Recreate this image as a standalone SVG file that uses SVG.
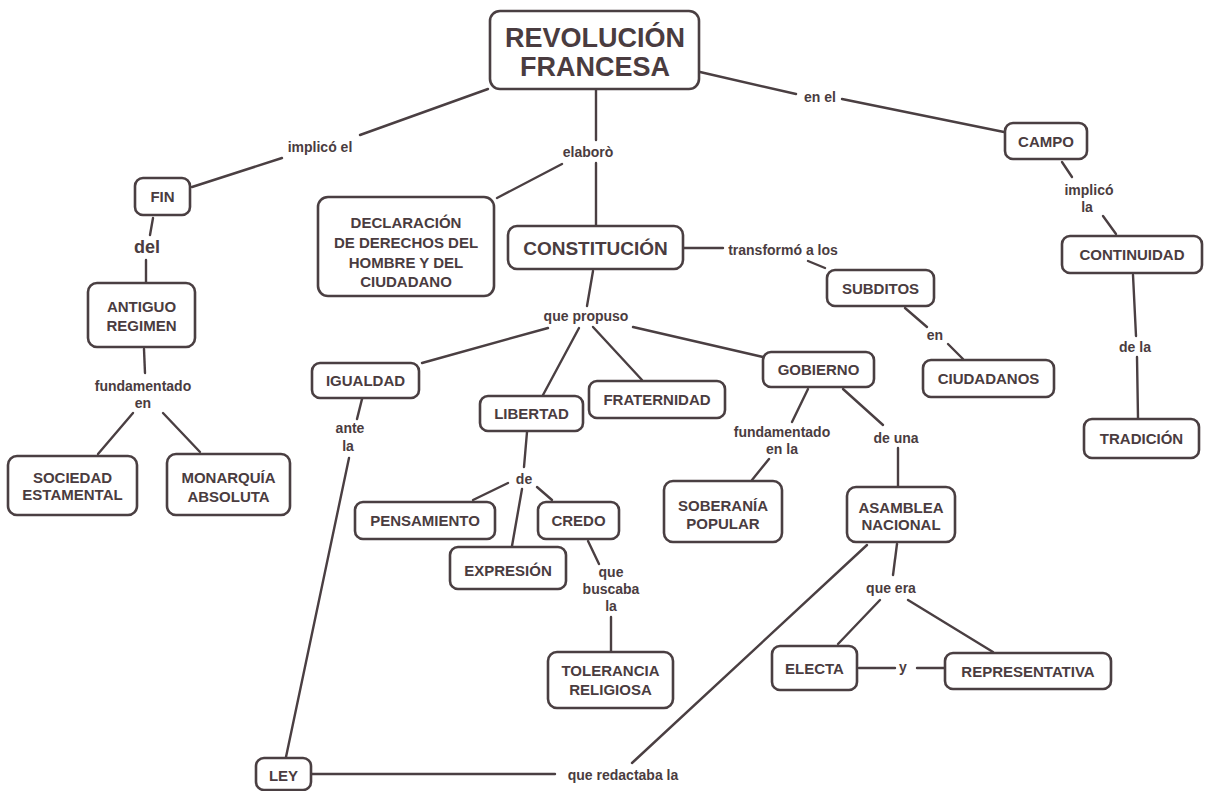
<svg xmlns="http://www.w3.org/2000/svg" width="1209" height="791" viewBox="0 0 1209 791">
<style>
.b{fill:#fff;stroke:#4a3f42;stroke-width:2.6}
.t{font-family:"Liberation Sans",Arial,sans-serif;font-weight:bold;fill:#4a3c40;text-anchor:middle;dominant-baseline:central;font-size:15px}
.l{font-family:"Liberation Sans",Arial,sans-serif;font-weight:bold;fill:#4a3c40;text-anchor:middle;dominant-baseline:central;font-size:14px}
#c line{stroke:#4a3f42;stroke-width:2.4;stroke-linecap:round}
</style>
<rect width="1209" height="791" fill="#fff"/>
<g id="c">
<line x1="488" y1="89" x2="360" y2="135"/><line x1="282" y1="158" x2="192" y2="187"/>
<line x1="153" y1="218" x2="150" y2="235"/><line x1="146" y1="260" x2="146" y2="282"/>
<line x1="144" y1="349" x2="145" y2="373"/><line x1="133" y1="413" x2="98" y2="454"/><line x1="163" y1="413" x2="200" y2="452"/>
<line x1="596" y1="90" x2="596" y2="140"/><line x1="596" y1="163" x2="596" y2="225"/><line x1="562" y1="164" x2="497" y2="198"/>
<line x1="700" y1="72" x2="796" y2="94"/><line x1="842" y1="99" x2="1004" y2="132"/>
<line x1="684" y1="248" x2="723" y2="248"/><line x1="808" y1="261" x2="825" y2="268"/>
<line x1="1062" y1="162" x2="1072" y2="177"/><line x1="1103" y1="216" x2="1116" y2="234"/>
<line x1="1133" y1="275" x2="1136" y2="336"/><line x1="1137" y1="357" x2="1138" y2="418"/>
<line x1="905" y1="308" x2="927" y2="327"/><line x1="948" y1="344" x2="963" y2="359"/>
<line x1="593" y1="271" x2="587" y2="306"/>
<line x1="548" y1="328" x2="422" y2="363"/><line x1="579" y1="328" x2="543" y2="395"/><line x1="593" y1="327" x2="642" y2="380"/><line x1="633" y1="327" x2="763" y2="357"/>
<line x1="362" y1="399" x2="357" y2="419"/><line x1="349" y1="458" x2="286" y2="757"/>
<line x1="527" y1="432" x2="524" y2="467"/><line x1="508" y1="483" x2="473" y2="500"/><line x1="522" y1="489" x2="512" y2="546"/><line x1="537" y1="487" x2="552" y2="500"/>
<line x1="588" y1="541" x2="599" y2="564"/><line x1="611" y1="617" x2="611" y2="651"/>
<line x1="808" y1="389" x2="792" y2="422"/><line x1="769" y1="459" x2="752" y2="480"/>
<line x1="843" y1="389" x2="883" y2="425"/><line x1="898" y1="448" x2="898" y2="486"/>
<line x1="897" y1="544" x2="893" y2="575"/><line x1="880" y1="600" x2="838" y2="644"/><line x1="908" y1="600" x2="993" y2="652"/>
<line x1="859" y1="668" x2="895" y2="668"/><line x1="917" y1="668" x2="944" y2="668"/>
<line x1="312" y1="774" x2="555" y2="774"/><line x1="867" y1="545" x2="632" y2="763"/>
</g>
<g id="lbl">
<text class="l" x="320" y="147">implicó el</text>
<text class="l" x="147" y="247" style="font-size:18px">del</text>
<text class="l" x="143" y="386">fundamentado</text><text class="l" x="143" y="403">en</text>
<text class="l" x="588" y="152">elaborò</text>
<text class="l" x="820" y="97">en el</text>
<text class="l" x="783" y="250">transformó a los</text>
<text class="l" x="1089" y="190">implicó</text><text class="l" x="1087" y="207">la</text>
<text class="l" x="1135" y="347">de la</text>
<text class="l" x="935" y="335">en</text>
<text class="l" x="586" y="316">que propuso</text>
<text class="l" x="350" y="428">ante</text><text class="l" x="348" y="446">la</text>
<text class="l" x="524" y="479">de</text>
<text class="l" x="611" y="572">que</text><text class="l" x="611" y="589">buscaba</text><text class="l" x="611" y="606">la</text>
<text class="l" x="782" y="432">fundamentado</text><text class="l" x="782" y="449">en la</text>
<text class="l" x="896" y="438">de una</text>
<text class="l" x="891" y="588">que era</text>
<text class="l" x="903" y="667">y</text>
<text class="l" x="623" y="775">que redactaba la</text>
</g>
<g id="n-rev"><rect class="b" x="490" y="11" width="209" height="78" rx="10"/><text class="t" x="595" y="38" style="font-size:27px">REVOLUCIÓN</text><text class="t" x="595" y="67" style="font-size:27px">FRANCESA</text></g>
<g id="n-campo"><rect class="b" x="1005" y="123" width="82" height="36" rx="8"/><text class="t" x="1046" y="141">CAMPO</text></g>
<g id="n-continuidad"><rect class="b" x="1062" y="236" width="140" height="37" rx="8"/><text class="t" x="1132" y="254.5">CONTINUIDAD</text></g>
<g id="n-tradicion"><rect class="b" x="1084" y="419" width="115" height="39" rx="8"/><text class="t" x="1141.5" y="438.5">TRADICIÓN</text></g>
<g id="n-subditos"><rect class="b" x="827" y="270" width="107" height="36" rx="8"/><text class="t" x="880.5" y="288">SUBDITOS</text></g>
<g id="n-ciudadanos"><rect class="b" x="923" y="360" width="131" height="37" rx="8"/><text class="t" x="988.5" y="378.5">CIUDADANOS</text></g>
<g id="n-gobierno"><rect class="b" x="763" y="352" width="111" height="35" rx="8"/><text class="t" x="818.5" y="369.5">GOBIERNO</text></g>
<g id="n-constitucion"><rect class="b" x="508" y="226" width="175" height="43" rx="9"/><text class="t" x="595.5" y="248" style="font-size:19px">CONSTITUCIÓN</text></g>
<g id="n-declaracion"><rect class="b" x="318" y="197" width="176" height="99" rx="10"/><text class="t" x="406" y="222">DECLARACIÓN</text><text class="t" x="406" y="242">DE DERECHOS DEL</text><text class="t" x="406" y="262">HOMBRE Y DEL</text><text class="t" x="406" y="281">CIUDADANO</text></g>
<g id="n-igualdad"><rect class="b" x="312" y="363" width="107" height="35" rx="8"/><text class="t" x="365.5" y="380.5">IGUALDAD</text></g>
<g id="n-libertad"><rect class="b" x="480" y="396" width="103" height="35" rx="8"/><text class="t" x="531.5" y="413.5">LIBERTAD</text></g>
<g id="n-fraternidad"><rect class="b" x="589" y="381" width="136" height="37" rx="8"/><text class="t" x="657" y="399.5">FRATERNIDAD</text></g>
<g id="n-fin"><rect class="b" x="135" y="178" width="55" height="37" rx="8"/><text class="t" x="162.5" y="196.5">FIN</text></g>
<g id="n-antiguo"><rect class="b" x="88" y="283" width="107" height="64" rx="9"/><text class="t" x="141.5" y="306">ANTIGUO</text><text class="t" x="141.5" y="325">REGIMEN</text></g>
<g id="n-sociedad"><rect class="b" x="8" y="456" width="129" height="59" rx="9"/><text class="t" x="72.5" y="477">SOCIEDAD</text><text class="t" x="72.5" y="494">ESTAMENTAL</text></g>
<g id="n-monarquia"><rect class="b" x="167" y="454" width="123" height="61" rx="9"/><text class="t" x="228.5" y="477">MONARQUÍA</text><text class="t" x="228.5" y="496">ABSOLUTA</text></g>
<g id="n-pensamiento"><rect class="b" x="355" y="502" width="140" height="37" rx="8"/><text class="t" x="425" y="520.5">PENSAMIENTO</text></g>
<g id="n-credo"><rect class="b" x="538" y="502" width="81" height="37" rx="8"/><text class="t" x="578.5" y="520.5">CREDO</text></g>
<g id="n-expresion"><rect class="b" x="450" y="547" width="116" height="42" rx="8"/><text class="t" x="508" y="570">EXPRESIÓN</text></g>
<g id="n-tolerancia"><rect class="b" x="548" y="652" width="125" height="56" rx="9"/><text class="t" x="610.5" y="670">TOLERANCIA</text><text class="t" x="610.5" y="689">RELIGIOSA</text></g>
<g id="n-soberania"><rect class="b" x="664" y="481" width="118" height="61" rx="9"/><text class="t" x="723" y="505">SOBERANÍA</text><text class="t" x="723" y="523">POPULAR</text></g>
<g id="n-asamblea"><rect class="b" x="847" y="487" width="108" height="55" rx="9"/><text class="t" x="901" y="507">ASAMBLEA</text><text class="t" x="901" y="524">NACIONAL</text></g>
<g id="n-electa"><rect class="b" x="772" y="646" width="85" height="44" rx="8"/><text class="t" x="814.5" y="668">ELECTA</text></g>
<g id="n-representativa"><rect class="b" x="945" y="653" width="166" height="36" rx="8"/><text class="t" x="1028" y="671">REPRESENTATIVA</text></g>
<g id="n-ley"><rect class="b" x="256" y="758" width="55" height="32" rx="8"/><text class="t" x="283.5" y="775">LEY</text></g>
</svg>
